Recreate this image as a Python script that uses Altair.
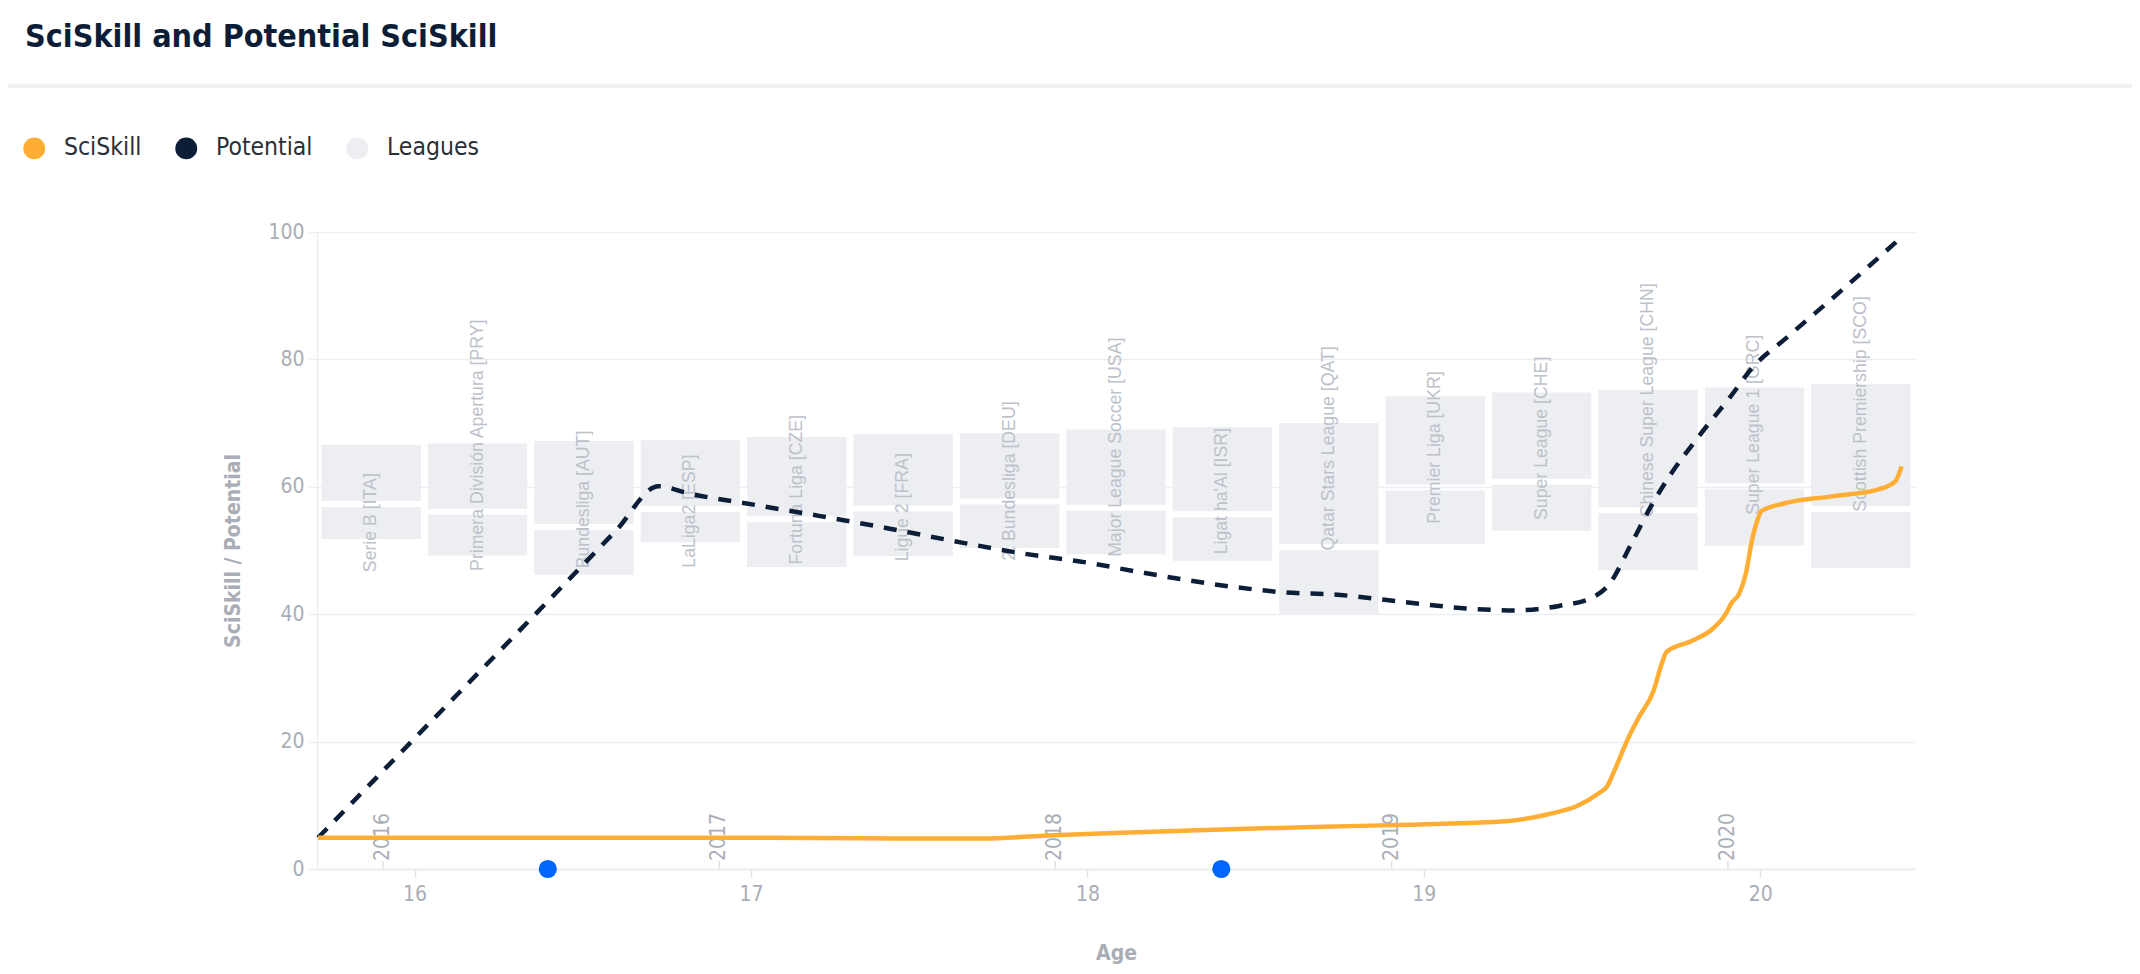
import altair as alt
import pandas as pd

# ---------------- data ----------------
sci_age = [15.713, 16.0, 16.5, 17.0, 17.44, 17.69, 17.90, 18.10, 18.40, 18.67, 18.99, 19.22,
           19.37, 19.46, 19.52, 19.544, 19.571, 19.609, 19.639, 19.683, 19.707, 19.722,
           19.796, 19.856, 19.897, 19.915, 19.936, 19.957, 19.975, 19.99, 20.004, 20.064,
           20.212, 20.352, 20.402, 20.42]
sci_val = [4.9, 4.9, 4.9, 4.9, 4.8, 4.8, 5.3, 5.7, 6.2, 6.6, 7.0, 7.4,
           8.6, 10.0, 11.9, 12.9, 16.0, 20.7, 23.8, 28.0, 32.2, 34.1,
           35.8, 37.6, 40.0, 41.8, 43.1, 46.3, 51.5, 54.5, 56.2, 57.3,
           58.5, 59.6, 60.9, 63.2]

pot_age = [15.713, 16.0, 16.37, 16.6, 16.725, 16.811, 17.007, 17.206, 17.405, 17.601, 17.80,
           17.999, 18.156, 18.432, 18.592, 18.729, 18.96, 19.126, 19.274, 19.402, 19.50,
           19.551, 19.618, 19.678, 19.737, 19.817, 19.915, 19.975, 20.076, 20.254, 20.42]
pot_val = [4.9, 20.5, 40.6, 53.2, 60.1, 59.0, 57.2, 55.4, 53.5, 51.5, 49.6,
           48.1, 46.6, 44.3, 43.4, 43.1, 41.8, 40.9, 40.6, 41.3, 42.6,
           44.7, 51.2, 57.2, 62.2, 67.9, 74.4, 78.6, 83.3, 91.4, 99.2]

leagues = ["Serie B [ITA]", "Primera División Apertura [PRY]", "Bundesliga [AUT]",
           "LaLiga2 [ESP]", "Fortuna Liga [CZE]", "Ligue 2 [FRA]", "2. Bundesliga [DEU]",
           "Major League Soccer [USA]", "Ligat ha'Al [ISR]", "Qatar Stars League [QAT]",
           "Premier Liga [UKR]", "Super League [CHE]", "Chinese Super League [CHN]",
           "Super League 1 [GRC]", "Scottish Premiership [SCO]"]
league_high = [66.6, 66.8, 67.2, 67.3, 67.8, 68.3, 68.4, 69.0, 69.4, 70.0, 74.2, 74.8, 75.2, 75.6, 76.1]
league_mid = [57.3, 56.1, 53.7, 56.5, 54.9, 56.6, 57.7, 56.7, 55.7, 50.5, 59.9, 60.8, 56.3, 60.1, 56.5]
league_low = [51.8, 49.2, 46.2, 51.3, 47.4, 49.1, 50.4, 49.4, 48.4, 40.0, 51.0, 53.1, 46.9, 50.8, 47.2]

year_labels = ["2016", "2017", "2018", "2019", "2020"]
year_age = [15.906, 16.906, 17.904, 18.904, 19.904]

event_age = [16.396, 18.398]

age_ticks = [16, 17, 18, 19, 20]
y_ticks = [0, 20, 40, 60, 80, 100]

legend_items = ["SciSkill", "Potential", "Leagues"]
legend_colors = ["#ffad33", "#0c1d37", "#eceef1"]

# ---------------- styles ----------------
FONT = "'DejaVu Sans Condensed', 'Liberation Sans Narrow', Roboto, sans-serif"
LABEL_FONT = "'Liberation Sans', Arial, sans-serif"
GRAY = "#a9aeb6"
GRID = "#eceef1"

sci_df = pd.DataFrame({"age": sci_age, "value": sci_val})
pot_df = pd.DataFrame({"age": pot_age, "value": pot_val})
league_df = pd.DataFrame({"league": leagues, "high": league_high, "mid": league_mid, "low": league_low})
year_df = pd.DataFrame({"year": year_labels, "age": year_age})
event_df = pd.DataFrame({"age": event_age})
legend_df = pd.DataFrame({"series": legend_items})

yscale = alt.Scale(domain=[0, 100], nice=False, zero=True)
yaxis = alt.Axis(values=y_ticks, title="SciSkill / Potential", grid=True, gridColor=GRID,
                 gridWidth=1.5, tickSize=8, tickColor=GRID, tickWidth=1.5,
                 domainColor=GRID, domainWidth=1.5, labelFontSize=21, labelFont=FONT,
                 labelColor=GRAY, labelPadding=5, titleFont=FONT, titleFontSize=21,
                 titleFontWeight="bold", titleColor=GRAY, titlePadding=24)
xscale = alt.Scale(domain=[15.71, 20.46], nice=False, zero=False)
xaxis = alt.Axis(values=age_ticks, format="d", title="Age", grid=False, tickSize=8,
                 tickColor="#e3e5e9", tickWidth=1.5, domainColor=GRID, domainWidth=2,
                 labelFontSize=21, labelFont=FONT, labelColor=GRAY, labelPadding=6,
                 titleFont=FONT, titleFontSize=21, titleFontWeight="bold", titleColor=GRAY,
                 titlePadding=38)

def X(field):
    return alt.X(field, scale=xscale, axis=xaxis)

def Y(field):
    return alt.Y(field, scale=yscale, axis=yaxis)

# ---------------- league boxes (band scale across the time axis) ----------------
xband = alt.X("league:N", sort=leagues, axis=None,
              scale=alt.Scale(paddingInner=0.066, paddingOuter=0.042))

upper = alt.Chart(league_df).mark_rect(color="#eceef1", y2Offset=-3).encode(
    x=xband, y=Y("high:Q"), y2="mid:Q")
lower = alt.Chart(league_df).mark_rect(color="#eceef1", yOffset=3).encode(
    x=xband, y=Y("mid:Q"), y2="low:Q")
league_text = alt.Chart(league_df).transform_calculate(
    label_y="datum.high - 20"
).mark_text(angle=270, align="left", baseline="middle", fontSize=17.7, font=LABEL_FONT,
            color="#bcc1ca").encode(x=xband, y=Y("label_y:Q"), text="league:N")

league_layer = alt.layer(upper, lower, league_text)

# ---------------- time layers ----------------
year_ticks = alt.Chart(year_df).mark_rule(color="#dfe2e6", strokeWidth=1.5, y2Offset=-8,
                                          clip=False).encode(
    x=X("age:Q"), y=alt.datum(0), y2=alt.datum(0))
year_text = alt.Chart(year_df).mark_text(angle=270, align="left", baseline="middle", dx=8,
                                         fontSize=21, font=FONT, color=GRAY).encode(
    x=X("age:Q"), y=alt.datum(0), text="year:N")

pot_line = alt.Chart(pot_df).mark_line(color="#0c1d37", strokeWidth=4.5, strokeDash=[13, 11],
                                       interpolate="monotone").encode(
    x=X("age:Q"), y=Y("value:Q"))
sci_line = alt.Chart(sci_df).mark_line(color="#ffad33", strokeWidth=4.5,
                                       interpolate="monotone").encode(
    x=X("age:Q"), y=Y("value:Q"))
events = alt.Chart(event_df).mark_circle(color="#0066ff", size=330, opacity=1,
                                         clip=False).encode(
    x=X("age:Q"), y=alt.datum(0))

legend_layer = alt.Chart(legend_df).mark_point(filled=True, opacity=0).encode(
    x=alt.value(0), y=alt.value(0),
    color=alt.Color("series:N", scale=alt.Scale(domain=legend_items, range=legend_colors),
                    legend=alt.Legend(orient="none", legendX=-295, legendY=-96,
                                      direction="horizontal", title=None,
                                      symbolType="circle", symbolSize=480,
                                      symbolOpacity=1, symbolStrokeWidth=0,
                                      labelFontSize=24.5, labelFont=FONT,
                                      labelColor="#2b2f36", columnPadding=32,
                                      labelOffset=17.5)))

separator = alt.Chart(legend_df).mark_rule(color="#eef0f3", strokeWidth=3, clip=False).encode(
    x=alt.value(-340), x2=alt.value(1900), y=alt.value(-146))

time_layer = alt.layer(year_ticks, year_text, pot_line, sci_line, events, legend_layer, separator)

chart = alt.layer(league_layer, time_layer).resolve_scale(x="independent").properties(
    width=1598, height=637,
    autosize=alt.AutoSizeParams(type="none"),
    padding={"left": 309, "top": 224, "right": 217, "bottom": 97},
    title=alt.TitleParams("SciSkill and Potential SciSkill", anchor="start", frame="group",
                          dx=-292, dy=-11, fontSize=32, font=FONT, fontWeight="bold",
                          color="#0c1d37", offset=20),
).configure_view(stroke=None)

chart.save("out.html", embed_options={"renderer": "svg", "actions": False})
